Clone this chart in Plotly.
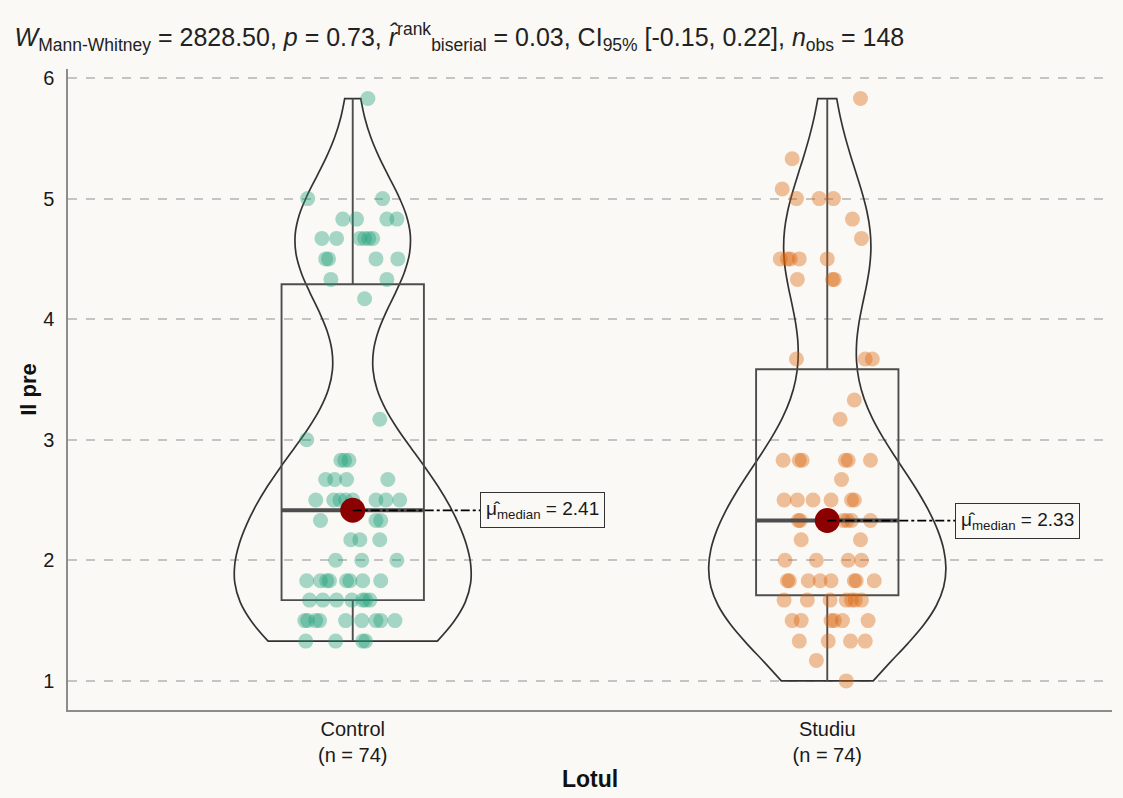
import numpy as np
import plotly.graph_objects as go

# ---------------- data ----------------
groups = ["Control", "Studiu"]
tick_labels = ["Control<br>(n = 74)", "Studiu<br>(n = 74)"]
median_labels = ["2.41", "2.33"]

control_vals = [5.83,
                5.0, 5.0,
                4.83, 4.83, 4.83, 4.83,
                4.67, 4.67, 4.67, 4.67, 4.67, 4.67,
                4.5, 4.5, 4.5, 4.5,
                4.33, 4.33,
                4.17,
                3.17,
                3.0,
                2.83, 2.83, 2.83,
                2.67, 2.67, 2.67, 2.67,
                2.5, 2.5, 2.5, 2.5, 2.5, 2.5, 2.5, 2.5,
                2.33, 2.33, 2.33,
                2.17, 2.17, 2.17,
                2.0, 2.0, 2.0,
                1.83, 1.83, 1.83, 1.83, 1.83, 1.83, 1.83, 1.83,
                1.67, 1.67, 1.67, 1.67, 1.67, 1.67, 1.67,
                1.5, 1.5, 1.5, 1.5, 1.5, 1.5, 1.5, 1.5, 1.5,
                1.33, 1.33, 1.33, 1.33]

control_jitter = [0.032,
                  -0.095, 0.063,
                  -0.021, 0.008, 0.072, 0.093,
                  -0.065, -0.034, 0.015, 0.025, 0.034, 0.042,
                  -0.057, -0.051, 0.049, 0.095,
                  -0.046, 0.072,
                  0.025,
                  0.057,
                  -0.097,
                  -0.025, -0.017, -0.008,
                  -0.057, -0.038, -0.013, 0.074,
                  -0.078, -0.040, -0.027, -0.015, 0.000, 0.049, 0.070, 0.099,
                  -0.068, 0.049, 0.059,
                  -0.004, 0.015, 0.057,
                  -0.036, 0.019, 0.093,
                  -0.097, -0.068, -0.055, -0.049, -0.013, -0.006, 0.021, 0.059,
                  -0.091, -0.063, -0.034, -0.002, 0.021, 0.027, 0.036,
                  -0.101, -0.095, -0.078, -0.070, -0.015, 0.019, 0.049, 0.059, 0.089,
                  -0.099, -0.036, 0.021, 0.027]

studiu_vals = [5.83,
               5.33,
               5.08,
               5.0, 5.0, 5.0,
               4.83,
               4.67,
               4.5, 4.5, 4.5, 4.5, 4.5,
               4.33, 4.33, 4.33,
               3.67, 3.67, 3.67,
               3.33,
               3.17,
               2.83, 2.83, 2.83, 2.83, 2.83, 2.83,
               2.67,
               2.5, 2.5, 2.5, 2.5, 2.5, 2.5,
               2.33, 2.33, 2.33, 2.33, 2.33, 2.33, 2.33,
               2.17, 2.17,
               2.0, 2.0, 2.0, 2.0,
               1.83, 1.83, 1.83, 1.83, 1.83, 1.83, 1.83, 1.83,
               1.67, 1.67, 1.67, 1.67, 1.67, 1.67, 1.67,
               1.5, 1.5, 1.5, 1.5, 1.5, 1.5,
               1.33, 1.33, 1.33, 1.33,
               1.17,
               1.0]

studiu_jitter = [0.070,
                 -0.074,
                 -0.095,
                 -0.065, -0.017, 0.013,
                 0.053,
                 0.072,
                 -0.099, -0.084, -0.078, -0.059, 0.000,
                 -0.063, 0.011, 0.015,
                 -0.065, 0.080, 0.095,
                 0.057,
                 0.027,
                 -0.093, -0.059, -0.053, 0.038, 0.044, 0.091,
                 0.030,
                 -0.091, -0.063, -0.030, 0.008, 0.051, 0.057,
                 -0.061, -0.057, 0.000, 0.034, 0.042, 0.051, 0.091,
                 -0.055, 0.070,
                 -0.089, -0.023, 0.044, 0.072,
                 -0.084, -0.080, -0.040, -0.015, 0.008, 0.057, 0.061, 0.099,
                 -0.091, -0.042, 0.006, 0.040, 0.051, 0.059, 0.072,
                 -0.074, -0.055, 0.008, 0.015, 0.032, 0.086,
                 -0.059, 0.002, 0.049, 0.080,
                 -0.023,
                 0.040]

# ---------------- style ----------------
BG = "#FAF9F5"
FONT = "Liberation Sans, Arial, sans-serif"
point_colors = ["rgba(27,158,119,0.38)", "rgba(217,95,2,0.38)"]
data = [np.array(control_vals), np.array(studiu_vals)]
jit = [np.array(control_jitter), np.array(studiu_jitter)]
positions = [1, 2]


def nrd0(v):
    q75, q25 = np.percentile(v, [75, 25])
    lo = min(np.std(v, ddof=1), (q75 - q25) / 1.34)
    return 0.9 * lo * len(v) ** (-0.2)


def max_kde(v, bw):
    grid = np.linspace(v.min(), v.max(), 512)
    d = np.exp(-0.5 * ((grid[:, None] - v[None, :]) / bw) ** 2).sum(axis=1)
    return d.max() / (len(v) * bw * np.sqrt(2 * np.pi))


def box_stats(v):
    q1, med, q3 = np.percentile(v, [25, 50, 75])
    iqr = q3 - q1
    lo = v[v >= q1 - 1.5 * iqr].min()
    hi = v[v <= q3 + 1.5 * iqr].max()
    return q1, med, q3, lo, hi


bws = [nrd0(v) for v in data]
mk = [max_kde(v, b) for v, b in zip(data, bws)]
vwidths = [0.5 * m / max(mk) for m in mk]

fig = go.Figure()

for i in range(2):
    fig.add_trace(go.Scatter(
        x=positions[i] + jit[i], y=data[i], mode="markers",
        marker=dict(size=15, color=point_colors[i], line=dict(width=0)),
        showlegend=False, hoverinfo="y"))

for i in range(2):
    q1, med, q3, lo, hi = box_stats(data[i])
    fig.add_trace(go.Box(
        x=[positions[i]], q1=[q1], median=[med], q3=[q3],
        lowerfence=[lo], upperfence=[hi], width=0.3,
        fillcolor="rgba(0,0,0,0)", line=dict(color="#4D4D4D", width=1.9),
        whiskerwidth=0, showlegend=False))
    fig.add_trace(go.Scatter(
        x=[positions[i] - 0.15, positions[i] + 0.15], y=[med, med], mode="lines",
        line=dict(color="#4D4D4D", width=4), showlegend=False, hoverinfo="skip"))

for i in range(2):
    fig.add_trace(go.Violin(
        x=[positions[i]] * len(data[i]), y=data[i], width=vwidths[i],
        bandwidth=bws[i], spanmode="hard", points=False,
        fillcolor="rgba(255,255,255,0)", line=dict(color="#333333", width=1.7),
        box_visible=False, meanline_visible=False, showlegend=False))

for i in range(2):
    med = float(np.median(data[i]))
    fig.add_trace(go.Scatter(
        x=[positions[i]], y=[med], mode="markers",
        marker=dict(size=25, color="#8B0000", line=dict(width=0)),
        showlegend=False))
    fig.add_trace(go.Scatter(
        x=[positions[i], positions[i] + 0.4], y=[med, med], mode="lines",
        line=dict(color="black", width=1.7, dash="dashdot"),
        showlegend=False, hoverinfo="skip"))
    fig.add_annotation(
        x=positions[i] + 0.4, y=med, xref="x", yref="y",
        text="\u03bc\u0302<sub>median</sub> = " + median_labels[i],
        showarrow=False, font=dict(family=FONT, size=19, color="#1a1a1a"),
        bgcolor=BG, bordercolor="#333333", borderwidth=1, borderpad=5)

title = ("<i>W</i><sub>Mann-Whitney</sub> = 2828.50, <i>p</i> = 0.73, "
         "<i>r\u0302</i><sup>rank</sup><sub>biserial</sub> = 0.03, "
         "CI<sub>95%</sub> [-0.15, 0.22], <i>n</i><sub>obs</sub> = 148")

fig.update_layout(
    width=1123, height=798,
    paper_bgcolor=BG, plot_bgcolor=BG,
    margin=dict(l=68, r=11, t=69, b=88),
    font=dict(family=FONT, color="#1a1a1a"),
    violinmode="overlay", boxmode="overlay",
    showlegend=False,
    title=dict(text=title, x=0.013, xanchor="left", y=1 - 37 / 798,
               yanchor="middle", yref="container",
               font=dict(family=FONT, size=25, color="#222222")),
    xaxis=dict(range=[0.4, 2.6], tickvals=positions, ticktext=tick_labels,
               showgrid=False, zeroline=False, showline=True,
               linecolor="#8C8C8C", linewidth=1.5, ticks="",
               tickfont=dict(size=20, color="#1a1a1a"),
               title=dict(text="<b>Lotul</b>", font=dict(size=23, color="#111111"),
                          standoff=6)),
    yaxis=dict(range=[0.7585, 6.075], tickvals=[1, 2, 3, 4, 5, 6],
               showgrid=True, gridcolor="#C4C4C4", gridwidth=1.5, griddash="dash",
               zeroline=False, showline=True, linecolor="#8C8C8C", linewidth=1.5,
               ticks="", ticklabelstandoff=8,
               tickfont=dict(size=20, color="#1a1a1a"),
               title=dict(text="<b>Il pre</b>", font=dict(size=22, color="#111111"),
                          standoff=0)),
)

fig.write_html("out.html", config={"displayModeBar": False},
               post_script="document.body.style.margin='0';")
